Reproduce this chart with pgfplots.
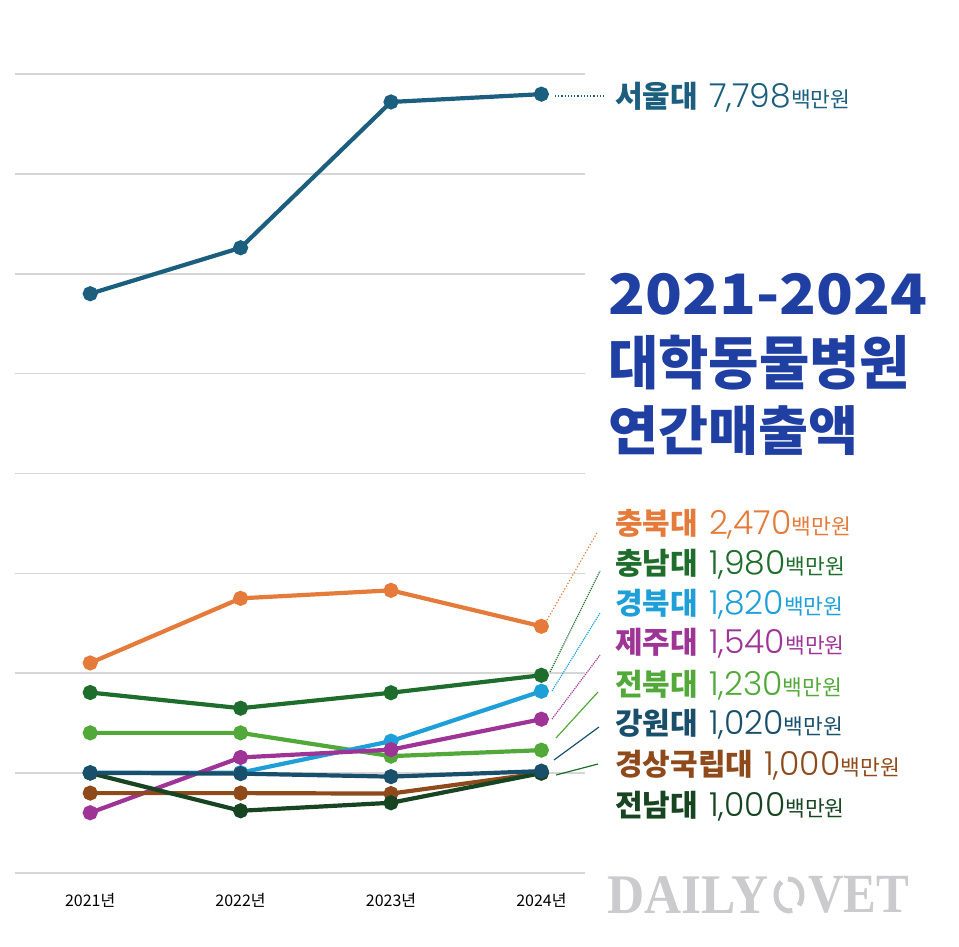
\documentclass[border=0pt]{standalone}
\usepackage{pgfplots}
\pgfplotsset{compat=1.18}
\usepackage{fontspec}
\usepackage{graphicx}
\setmainfont{Noto Sans CJK KR}
\newfontfamily\serifwm{Liberation Serif}
\newfontfamily\numf{Poppins}[UprightFont={* Light}]
\newfontfamily\krblack{Noto Sans CJK KR}[UprightFont={* Black}]
\definecolor{cSeoul}{HTML}{1B5E7E}
\definecolor{cTitle}{HTML}{1F3FA2}
\definecolor{cCB}{HTML}{E57B3A}
\definecolor{cCN}{HTML}{1F6D2C}
\definecolor{cGB}{HTML}{1E9FD7}
\definecolor{cJJ}{HTML}{9E3596}
\definecolor{cJB}{HTML}{52A93A}
\definecolor{cGW}{HTML}{1A4F6B}
\definecolor{cGS}{HTML}{8E4A1B}
\definecolor{cJN}{HTML}{174522}
\definecolor{cGrid}{HTML}{D6D6D6}
\definecolor{cWM}{HTML}{CBCBCE}
\newcommand{\lab}[4]{%
  \node[anchor=base west,inner sep=0pt,text=#1] at (615pt,#2pt)
  {{\bfseries\fontsize{30}{30}\selectfont #3}\hspace{11pt}{\numf\fontsize{33}{33}\selectfont #4}{\fontsize{21.5}{21.5}\selectfont 백만원}};}
\begin{document}
\begin{tikzpicture}[x=1pt,y=1pt]
\path[use as bounding box] (0,0) rectangle (959,946);
\begin{axis}[
  at={(15pt,73pt)}, anchor=south west,
  width=570pt, height=799pt, scale only axis,
  xmin=-0.5, xmax=3.29, ymin=0, ymax=8000,
  ytick={0,1000,...,8000}, yticklabels={},
  ymajorgrids, grid style={cGrid, line width=1.6pt},
  xtick={0,1,2,3}, xticklabels={2021년,2022년,2023년,2024년},
  x tick label style={font=\fontsize{16}{16}\selectfont, yshift=-17pt},
  major tick length=0pt,
  axis line style={draw=none},
  clip=false,
  every axis plot/.append style={line width=4.2pt, mark=*, mark size=5.4pt},
]
\addplot[cSeoul, mark options={fill=cSeoul}] coordinates {(0,5800) (1,6260) (2,7720) (3,7798)};
\addplot[cCB, mark options={fill=cCB}] coordinates {(0,2103) (1,2750) (2,2830) (3,2470)};
\addplot[cCN, mark options={fill=cCN}] coordinates {(0,1807) (1,1650) (2,1805) (3,1980)};
\addplot[cJB, mark options={fill=cJB}] coordinates {(0,1403) (1,1403) (2,1170) (3,1230)};
\addplot[cGB, mark options={fill=cGB}] coordinates {(0,1005) (1,1005) (2,1320) (3,1820)};
\addplot[cJJ, mark options={fill=cJJ}] coordinates {(0,603) (1,1157) (2,1235) (3,1540)};
\addplot[cGS, mark options={fill=cGS}] coordinates {(0,800) (1,800) (2,795) (3,1000)};
\addplot[cJN, mark options={fill=cJN}] coordinates {(0,1000) (1,623) (2,703) (3,1000)};
\addplot[cGW, mark options={fill=cGW}] coordinates {(0,1003) (1,995) (2,965) (3,1020)};
\end{axis}
% leaders
\draw[cSeoul, line width=1.2pt, dotted] (555,850) -- (605,850);
\draw[cCB, line width=1.2pt, dotted] (547,326) -- (598,415);
\draw[cCN, line width=1.2pt, densely dotted] (550,274) -- (600,375);
\draw[cGB, line width=1.2pt, densely dotted] (552,255) -- (600,333);
\draw[cJJ, line width=1.2pt, densely dotted] (552,227) -- (600,291);
\draw[cJB, line width=1.2pt] (556,208) -- (598,254);
\draw[cGW, line width=1.2pt] (554,186) -- (599,219);
\draw[cCN, line width=1.2pt] (556,171) -- (598,182);
% labels
\lab{cSeoul}{838}{서울대}{7,798}
\lab{cCB}{411}{충북대}{2,470}
\lab{cCN}{371}{충남대}{1,980}
\lab{cGB}{331}{경북대}{1,820}
\lab{cJJ}{292}{제주대}{1,540}
\lab{cJB}{250}{전북대}{1,230}
\lab{cGW}{211}{강원대}{1,020}
\lab{cGS}{170}{경상국립대}{1,000}
\lab{cJN}{130}{전남대}{1,000}
% title
\node[anchor=north west, inner sep=0pt, text=cTitle] at (608,673) {\resizebox*{319pt}{42pt}{\krblack 2021-2024}};
\node[anchor=north west, inner sep=0pt, text=cTitle] at (608,611) {\resizebox*{302pt}{55pt}{\krblack 대학동물병원}};
\node[anchor=north west, inner sep=0pt, text=cTitle] at (608,541) {\resizebox*{250pt}{50pt}{\krblack 연간매출액}};
% watermark
\node[anchor=north west, inner sep=0pt, text=cWM] at (607,70) {\resizebox*{161pt}{37pt}{\serifwm\bfseries DAILY}};
\draw[cWM, line width=5pt] (789,51) ++(125:13 and 16) arc[start angle=125, end angle=285, x radius=13, y radius=16];
\draw[cWM, line width=5pt] (789,51) ++(-40:13 and 16) arc[start angle=-40, end angle=95, x radius=13, y radius=16];
\node[anchor=north west, inner sep=0pt, text=cWM] at (808,70) {\resizebox*{101pt}{37pt}{\serifwm\bfseries VET}};
\end{tikzpicture}
\end{document}
